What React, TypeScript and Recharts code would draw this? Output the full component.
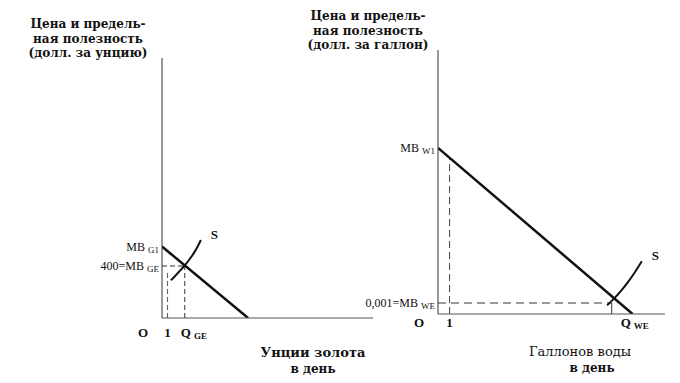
import React from 'react';
import { LineChart, Line, XAxis, YAxis, ReferenceLine, ReferenceDot } from 'recharts';

// gold panel (dollars per ounce vs ounces per day)
const goldDemand = [
  { q: 0, p: 550 },
  { q: 15.5, p: 0 },
];
const goldSupply = [
  { q: 1.6, p: 290 },
  { q: 2.4, p: 325 },
  { q: 3.2, p: 362 },
  { q: 4.1, p: 404 },
  { q: 4.9, p: 448 },
  { q: 5.7, p: 497 },
  { q: 6.4, p: 548 },
  { q: 7.0, p: 600 },
];
const goldTicksX = [0, 1, 4.1];
const goldLabelsX = [
  { main: 'O', sub: '' },
  { main: '1', sub: '' },
  { main: 'Q', sub: 'GE' },
];
const goldTicksY = [400, 550];
const goldLabelsY = [
  { main: '400=MB', sub: 'GE' },
  { main: 'MB', sub: 'G1' },
];

// water panel (dollars per gallon vs gallons per day)
const waterDemand = [
  { q: 0, p: 0.0151 },
  { q: 16.8, p: 0 },
];
const waterSupply = [
  { q: 14.6, p: 0.0008 },
  { q: 15.2, p: 0.0014 },
  { q: 15.8, p: 0.0021 },
  { q: 16.4, p: 0.0029 },
  { q: 17.0, p: 0.0038 },
  { q: 17.6, p: 0.0048 },
];
const waterTicksX = [0, 1, 15.0];
const waterLabelsX = [
  { main: 'O', sub: '' },
  { main: '1', sub: '' },
  { main: 'Q', sub: 'WE' },
];
const waterTicksY = [0.001, 0.0151];
const waterLabelsY = [
  { main: '0,001=MB', sub: 'WE' },
  { main: 'MB', sub: 'W1' },
];

const FONT = "'Liberation Serif', 'Times New Roman', serif";
const CYR = "'DejaVu Serif', 'Liberation Serif', serif";
const INK = '#111';

type Lab = { main: string; sub: string };

function makeXTick(labels: Lab[], below: number, subShift: number) {
  return (props: any) => {
    const { x, y, index } = props;
    const lab = labels[index];
    if (!lab) return <g />;
    const isOrigin = index === 0;
    const tx = isOrigin ? x - 19 : lab.sub ? x + subShift : x;
    return (
      <text
        x={tx}
        y={y + below}
        textAnchor={lab.sub ? 'start' : 'middle'}
        fontFamily={FONT}
        fontSize={13}
        fontWeight="bold"
        fill={INK}
      >
        {lab.main}
        {lab.sub && (
          <tspan fontSize={9} dx={3} dy={2}>
            {lab.sub}
          </tspan>
        )}
      </text>
    );
  };
}

function makeYTick(labels: Lab[]) {
  return (props: any) => {
    const { x, y, index } = props;
    const lab = labels[index];
    if (!lab) return <g />;
    return (
      <text x={x} y={y + 4} textAnchor="end" fontFamily={FONT} fontSize={12} fill={INK}>
        {lab.main}
        <tspan fontSize={9} dx={3} dy={2}>
          {lab.sub}
        </tspan>
      </text>
    );
  };
}

const sLabel = (p: any) => (
  <text
    x={p.viewBox.x + 10}
    y={p.viewBox.y - 1}
    fontFamily={FONT}
    fontSize={13}
    fontWeight="bold"
    fill={INK}
  >
    S
  </text>
);

const textBlock: React.CSSProperties = {
  position: 'absolute',
  fontFamily: CYR,
  color: INK,
  textAlign: 'center',
  whiteSpace: 'nowrap',
};

export default function App() {
  return (
    <div style={{ position: 'absolute', left: 0, top: 0, width: 680, height: 383, background: '#fff', overflow: 'hidden' }}>
      {/* left: gold */}
      <div style={{ position: 'absolute', left: 0, top: 0 }}>
        <LineChart width={400} height={383} margin={{ top: 58, right: 27, left: 102, bottom: 35 }}>
          <XAxis
            type="number"
            dataKey="q"
            domain={[0, 38]}
            ticks={goldTicksX}
            interval={0}
            height={30}
            tickSize={0}
            tickMargin={0}
            tickLine={false}
            axisLine={{ stroke: '#555', strokeWidth: 1 }}
            tick={makeXTick(goldLabelsX, 19, -4)}
            allowDataOverflow
          />
          <YAxis
            type="number"
            dataKey="p"
            domain={[0, 2000]}
            ticks={goldTicksY}
            interval={0}
            width={60}
            tickSize={0}
            tickMargin={3}
            tickLine={false}
            axisLine={{ stroke: '#333', strokeWidth: 1 }}
            tick={makeYTick(goldLabelsY)}
            allowDataOverflow
          />
          <ReferenceLine segment={[{ x: 0, y: 400 }, { x: 4.1, y: 400 }]} stroke="#333" strokeDasharray="5 3" />
          <ReferenceLine segment={[{ x: 1, y: 0 }, { x: 1, y: 370 }]} stroke="#555" strokeDasharray="5 3" />
          <ReferenceLine segment={[{ x: 4.1, y: 0 }, { x: 4.1, y: 404 }]} stroke="#333" strokeDasharray="5 3" />
          <Line data={goldDemand} dataKey="p" type="linear" stroke={INK} strokeWidth={2.5} dot={false} isAnimationActive={false} />
          <Line data={goldSupply} dataKey="p" type="monotone" stroke={INK} strokeWidth={2} dot={false} isAnimationActive={false} />
          <ReferenceDot x={7.0} y={600} r={0} stroke="none" fill="none" label={{ content: sLabel }} />
        </LineChart>
      </div>

      {/* right: water */}
      <div style={{ position: 'absolute', left: 340, top: 0 }}>
        <LineChart width={340} height={383} margin={{ top: 50, right: 15, left: 38, bottom: 39 }}>
          <XAxis
            type="number"
            dataKey="q"
            domain={[0, 19.6]}
            ticks={waterTicksX}
            interval={0}
            height={30}
            tickSize={0}
            tickMargin={0}
            tickLine={false}
            axisLine={{ stroke: '#555', strokeWidth: 1 }}
            tick={makeXTick(waterLabelsX, 13, 9)}
            allowDataOverflow
          />
          <YAxis
            type="number"
            dataKey="p"
            domain={[0, 0.024]}
            ticks={waterTicksY}
            interval={0}
            width={60}
            tickSize={0}
            tickMargin={3}
            tickLine={false}
            axisLine={{ stroke: '#333', strokeWidth: 1 }}
            tick={makeYTick(waterLabelsY)}
            allowDataOverflow
          />
          <ReferenceLine segment={[{ x: 1, y: 0 }, { x: 1, y: 0.0142 }]} stroke="#444" strokeDasharray="7 4" />
          <ReferenceLine segment={[{ x: 0, y: 0.001 }, { x: 15.0, y: 0.001 }]} stroke="#333" strokeDasharray="8 5" />
          <ReferenceLine segment={[{ x: 15.0, y: 0 }, { x: 15.0, y: 0.001 }]} stroke="#333" />
          <Line data={waterDemand} dataKey="p" type="linear" stroke={INK} strokeWidth={2.5} dot={false} isAnimationActive={false} />
          <Line data={waterSupply} dataKey="p" type="monotone" stroke={INK} strokeWidth={2} dot={false} isAnimationActive={false} />
          <ReferenceDot x={17.6} y={0.0048} r={0} stroke="none" fill="none" label={{ content: sLabel }} />
        </LineChart>
      </div>

      {/* axis titles */}
      <div style={{ ...textBlock, left: 18, top: 17, width: 140, fontSize: 12, lineHeight: '14.5px', fontWeight: 'bold' }}>
        Цена и предель-
        <br />
        ная полезность
        <br />
        (долл. за унцию)
      </div>
      <div style={{ ...textBlock, left: 296, top: 9, width: 144, fontSize: 12, lineHeight: '14.5px', fontWeight: 'bold' }}>
        Цена и предель-
        <br />
        ная полезность
        <br />
        (долл. за галлон)
      </div>
      <div style={{ ...textBlock, left: 250, top: 345, width: 126, fontSize: 13, lineHeight: '16px', fontWeight: 'bold' }}>
        Унции золота
        <br />
        <span style={{ fontSize: 12 }}>в день</span>
      </div>
      <div style={{ ...textBlock, left: 520, top: 344, width: 120, fontSize: 13, lineHeight: '16px' }}>
        Галлонов воды
        <br />
        <span style={{ fontSize: 12, fontWeight: 'bold', marginLeft: 24 }}>в день</span>
      </div>
    </div>
  );
}
